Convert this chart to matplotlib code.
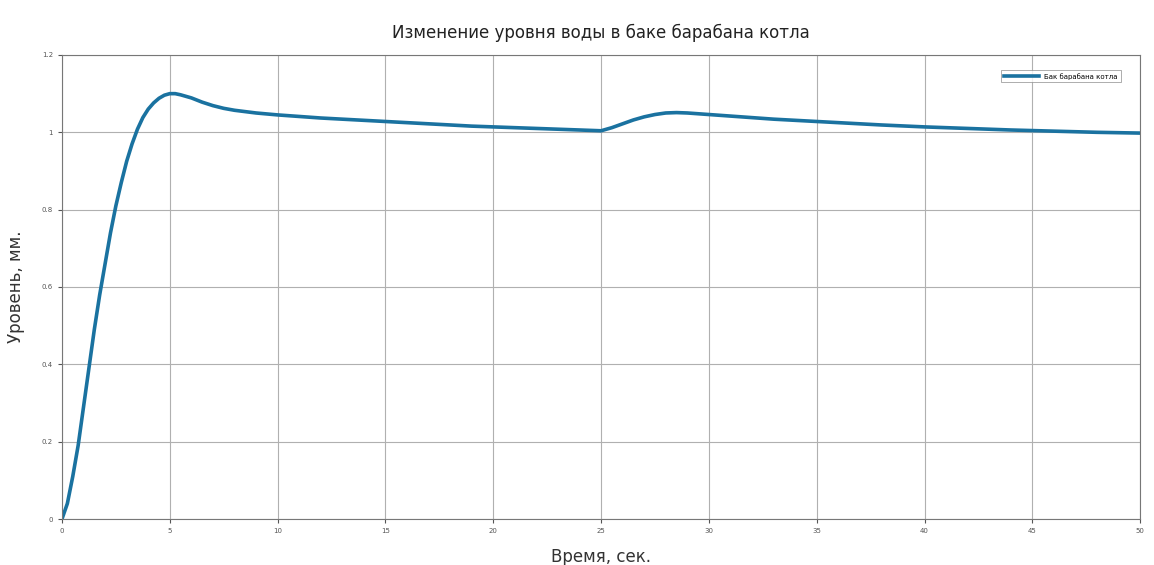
import numpy as np
import matplotlib.pyplot as plt

# Уровень воды в баке барабана котла
time_s = [0, 0.25, 0.5, 0.75, 1.0, 1.25, 1.5, 1.75, 2.0, 2.25, 2.5, 2.75, 3.0,
          3.25, 3.5, 3.75, 4.0, 4.25, 4.5, 4.75, 5.0, 5.25, 5.5, 6.0, 6.5, 7.0,
          7.5, 8.0, 9.0, 10, 11, 12, 13, 14, 15, 16, 17, 18, 19, 20, 21, 22, 23,
          24, 25, 25.5, 26, 26.5, 27, 27.5, 28, 28.5, 29, 30, 31, 32, 33, 34, 35,
          36, 37, 38, 40, 42, 44, 46, 48, 50]
level_mm = [0, 0.04, 0.11, 0.19, 0.29, 0.39, 0.49, 0.58, 0.66, 0.74, 0.81, 0.87, 0.925,
            0.97, 1.008, 1.038, 1.06, 1.076, 1.088, 1.096, 1.10, 1.10, 1.097, 1.089,
            1.078, 1.069, 1.062, 1.057, 1.050, 1.045, 1.041, 1.037, 1.034, 1.031,
            1.028, 1.025, 1.022, 1.019, 1.016, 1.014, 1.012, 1.010, 1.008, 1.006,
            1.004, 1.012, 1.022, 1.032, 1.040, 1.046, 1.050, 1.051, 1.050, 1.046,
            1.042, 1.038, 1.034, 1.031, 1.028, 1.025, 1.022, 1.019, 1.014, 1.010,
            1.006, 1.003, 1.000, 0.998]

x_ticks = np.arange(0, 51, 5)
y_ticks = np.arange(0, 1.21, 0.2)

fig = plt.figure(figsize=(11.54, 5.65), dpi=100)
ax = fig.add_axes([0.0537, 0.0814, 0.9343, 0.8213])

ax.plot(time_s, level_mm, color="#1a72a0", linewidth=2.6, label="Бак барабана котла")
ax.set_xlim(0, 50)
ax.set_ylim(0, 1.2)
ax.set_xticks(x_ticks)
ax.set_yticks(y_ticks)
ax.set_yticklabels(["0", "0.2", "0.4", "0.6", "0.8", "1", "1.2"])
ax.tick_params(labelsize=5, colors="#555555", length=3)
ax.grid(True, color="#b0b0b0", linewidth=0.8)
for s in ax.spines.values():
    s.set_color("#777777")

ax.set_title("Изменение уровня воды в баке барабана котла", fontsize=12,
             color="#222222", pad=12)
ax.set_xlabel("Время, сек.", fontsize=12, color="#333333", labelpad=10)
ax.set_ylabel("Уровень, мм.", fontsize=12, color="#333333", labelpad=12)

leg = ax.legend(loc="upper right", fontsize=5, frameon=True, fancybox=False,
                borderpad=0.4, handlelength=5, bbox_to_anchor=(0.985, 0.975))
leg.get_frame().set_edgecolor("#888888")
leg.get_frame().set_linewidth(0.6)

fig.savefig("out.png", dpi=100)
